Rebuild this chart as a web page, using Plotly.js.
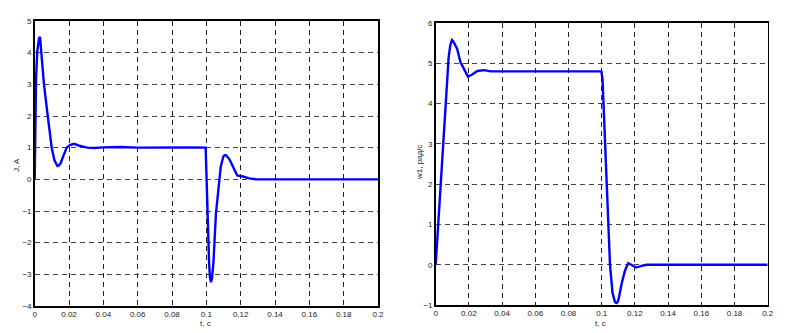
<!DOCTYPE html>
<html>
<head>
<meta charset="utf-8">
<script src="https://cdn.plot.ly/plotly-3.0.1.min.js"></script>
<style>html,body{margin:0;padding:0;background:#fff;}#chart{width:790px;height:333px;}</style>
</head>
<body>
<div id="chart"></div>
<script>
// Current J (A) vs time t (s)
const tJ = [0,0.0003,0.0008,0.0015,0.0025,0.0031,0.0039,0.0054,0.0076,0.0099,0.0115,0.0124,0.0132,0.014,0.015,0.0168,0.0186,0.0205,0.0218,0.0229,0.024,0.026,0.0306,0.035,0.04,0.05,0.06,0.07,0.08,0.09,0.0996,
            0.1006,0.1016,0.1021,0.1027,0.1033,0.1041,0.1056,0.107,0.1084,0.1099,0.1106,0.1114,0.1122,0.1134,0.1157,0.118,0.1213,0.125,0.129,0.15,0.2];
const J  = [0,1.6,3.2,4.05,4.45,4.5,4.0,3.0,2.0,1.0,0.6,0.47,0.42,0.44,0.5,0.75,1.0,1.08,1.11,1.12,1.1,1.06,1.0,0.99,1.01,1.02,1.0,1.01,1.0,1.01,1.0,
            -1.07,-2.65,-3.1,-3.25,-3.12,-2.65,-1.07,-0.33,0.41,0.72,0.76,0.76,0.72,0.64,0.38,0.12,0.09,0.03,0,0,0];
// Speed w1 (rad/s) vs time t (s)
const tW = [0,0.0016,0.0047,0.0061,0.0078,0.0088,0.0098,0.0105,0.0113,0.0129,0.0149,0.0169,0.0194,0.022,0.0251,0.0292,0.033,0.04,0.06,0.08,0.0998,
            0.1005,0.102,0.105,0.1065,0.1075,0.108,0.109,0.1096,0.1102,0.112,0.114,0.116,0.1178,0.1207,0.124,0.127,0.15,0.2];
const W  = [0,1.0,3.08,4.07,5.15,5.45,5.58,5.55,5.48,5.36,5.03,4.86,4.67,4.72,4.81,4.83,4.8,4.8,4.8,4.8,4.8,
            4.6,3.0,0.0,-0.7,-0.9,-0.93,-0.95,-0.92,-0.85,-0.47,-0.15,0.04,0.0,-0.07,-0.03,0,0,0];
const xTicks = [0,0.02,0.04,0.06,0.08,0.1,0.12,0.14,0.16,0.18,0.2];
const xTickText = ['0','0.02','0.04','0.06','0.08','0.1','0.12','0.14','0.16','0.18','0.2'];
const yTicksJ = [-4,-3,-2,-1,0,1,2,3,4,5];
const yTicksW = [-1,0,1,2,3,4,5,6];
const yTitleJ = 'J, A';
const yTitleW = 'w1, рад/с';
const xTitle = 't, с';

const W_ = 790, H_ = 333;
const px = v => v / W_;
const py = v => 1 - v / H_;
const tickFont = {family: 'Liberation Sans, Arial, sans-serif', size: 8, color: '#222'};
const lineStyle = {color: '#0000ff', width: 2.4};

function xa(domain){
  return {domain: domain, range: [0, 0.2], tickvals: xTicks, ticktext: xTickText,
    showline: true, mirror: true, linecolor: '#000', linewidth: 1.6, ticks: '',
    showgrid: true, gridcolor: '#222', gridwidth: 1, griddash: '5px,4px', zeroline: false,
    tickfont: tickFont, fixedrange: true};
}
function ya(domain, range, ticks, anchor){
  return {domain: domain, range: range, tickvals: ticks, anchor: anchor,
    showline: true, mirror: true, linecolor: '#000', linewidth: 1.6, ticks: '',
    showgrid: true, gridcolor: '#444', gridwidth: 1, griddash: '5px,4px', zeroline: false,
    tickfont: tickFont, fixedrange: true};
}

const data = [
  {x: tJ, y: J, type: 'scatter', mode: 'lines', line: lineStyle, xaxis: 'x', yaxis: 'y', hoverinfo: 'skip'},
  {x: tW, y: W, type: 'scatter', mode: 'lines', line: lineStyle, xaxis: 'x2', yaxis: 'y2', hoverinfo: 'skip'}
];
const annFont = {family: 'Liberation Sans, Arial, sans-serif', size: 8, color: '#222'};
const layout = {
  width: W_, height: H_, margin: {l: 0, r: 0, t: 0, b: 0},
  paper_bgcolor: '#fff', plot_bgcolor: '#fff', showlegend: false,
  xaxis: Object.assign(xa([px(34.7), px(378)]), {anchor: 'y'}),
  yaxis: ya([py(306), py(21)], [-4, 5], yTicksJ, 'x'),
  xaxis2: Object.assign(xa([px(435.7), px(767.7)]), {anchor: 'y2'}),
  yaxis2: ya([py(305), py(23)], [-1, 6], yTicksW, 'x2'),
  annotations: [
    {text: yTitleJ, xref: 'paper', yref: 'paper', x: px(16), y: py(165), textangle: -90, showarrow: false, font: annFont, xanchor: 'center', yanchor: 'middle'},
    {text: yTitleW, xref: 'paper', yref: 'paper', x: px(419), y: py(163), textangle: -90, showarrow: false, font: annFont, xanchor: 'center', yanchor: 'middle'},
    {text: xTitle, xref: 'paper', yref: 'paper', x: px(205), y: py(323), showarrow: false, font: annFont, xanchor: 'center', yanchor: 'middle'},
    {text: xTitle, xref: 'paper', yref: 'paper', x: px(600), y: py(323), showarrow: false, font: annFont, xanchor: 'center', yanchor: 'middle'}
  ]
};
Plotly.newPlot('chart', data, layout, {displayModeBar: false, staticPlot: true});
</script>
</body>
</html>
